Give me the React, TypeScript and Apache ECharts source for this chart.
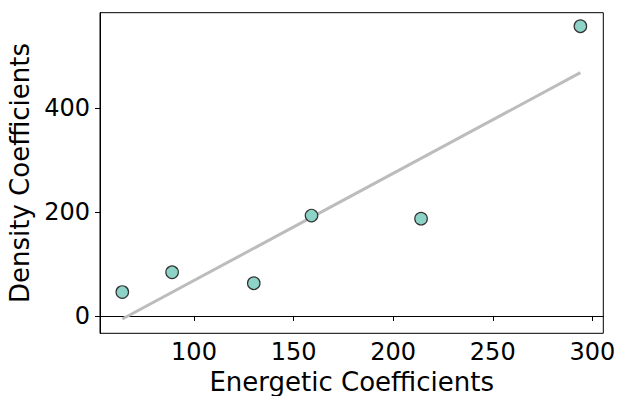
import React, { useEffect, useRef } from "react";
import * as echarts from "echarts";

const energetic: number[] = [64, 89, 130, 159, 214, 294];
const density: number[] = [46, 84, 63, 193, 187, 557];
const xTicks: number[] = [100, 150, 200, 250, 300];
const yTicks: number[] = [0, 200, 400];
const xLabel = "Energetic Coefficients";
const yLabel = "Density Coefficients";

function fitLine(xs: number[], ys: number[]): number[][] {
  const n = xs.length;
  const mx = xs.reduce((a, b) => a + b, 0) / n;
  const my = ys.reduce((a, b) => a + b, 0) / n;
  let sxy = 0;
  let sxx = 0;
  for (let i = 0; i < n; i++) {
    sxy += (xs[i] - mx) * (ys[i] - my);
    sxx += (xs[i] - mx) * (xs[i] - mx);
  }
  const slope = sxy / sxx;
  const icpt = my - slope * mx;
  const lo = Math.min(...xs);
  const hi = Math.max(...xs);
  return [
    [lo, icpt + slope * lo],
    [hi, icpt + slope * hi],
  ];
}

export default function App() {
  const ref = useRef<HTMLDivElement>(null);
  useEffect(() => {
    if (!ref.current) return;
    const chart = echarts.init(ref.current, null, { renderer: "svg" });
    const font = "DejaVu Sans";
    const points = energetic.map((x, i) => [x, density[i]]);
    chart.setOption({
      animation: false,
      backgroundColor: "#ffffff",
      grid: {
        left: 100,
        right: 13.7,
        top: 12.7,
        bottom: 62.7,
        containLabel: false,
        outerBoundsMode: "none",
        show: true,
        borderColor: "#000000",
        borderWidth: 1,
        backgroundColor: "transparent",
      },
      xAxis: {
        type: "value",
        min: 52.8,
        max: 305.5,
        name: xLabel,
        nameLocation: "middle",
        nameGap: 39,
        nameTextStyle: { fontFamily: font, fontSize: 26, lineHeight: 20, color: "#000" },
        axisLine: { show: true, lineStyle: { color: "#000", width: 1 } },
        axisTick: {
          show: true,
          length: 5,
          lineStyle: { color: "#000", width: 1 },
          customValues: xTicks,
        },
        axisLabel: {
          fontFamily: font,
          fontSize: 24,
          color: "#000",
          margin: 7,
          customValues: xTicks,
        },
        splitLine: { show: false },
      },
      yAxis: {
        type: "value",
        min: -33.3,
        max: 583,
        name: yLabel,
        nameLocation: "middle",
        nameGap: 60,
        nameRotate: 90,
        nameTextStyle: { fontFamily: font, fontSize: 26, color: "#000" },
        axisLine: { show: true, lineStyle: { color: "#000", width: 1 } },
        axisTick: {
          show: true,
          length: 5,
          lineStyle: { color: "#000", width: 1 },
          customValues: yTicks,
        },
        axisLabel: {
          fontFamily: font,
          fontSize: 24,
          color: "#000",
          margin: 10,
          customValues: yTicks,
        },
        splitLine: { show: false },
      },
      series: [
        {
          type: "line",
          data: fitLine(energetic, density),
          symbol: "none",
          lineStyle: { color: "#bcbcbc", width: 3 },
          z: 1,
        },
        {
          type: "scatter",
          data: points,
          symbol: "circle",
          symbolSize: 12.5,
          itemStyle: {
            color: "#8dd3c7",
            borderColor: "#333333",
            borderWidth: 1.2,
            opacity: 1,
          },
          z: 3,
        },
      ],
    });
    return () => chart.dispose();
  }, []);
  return (
    <div
      ref={ref}
      style={{ position: "fixed", left: 0, top: 0, width: 617, height: 396 }}
    />
  );
}
